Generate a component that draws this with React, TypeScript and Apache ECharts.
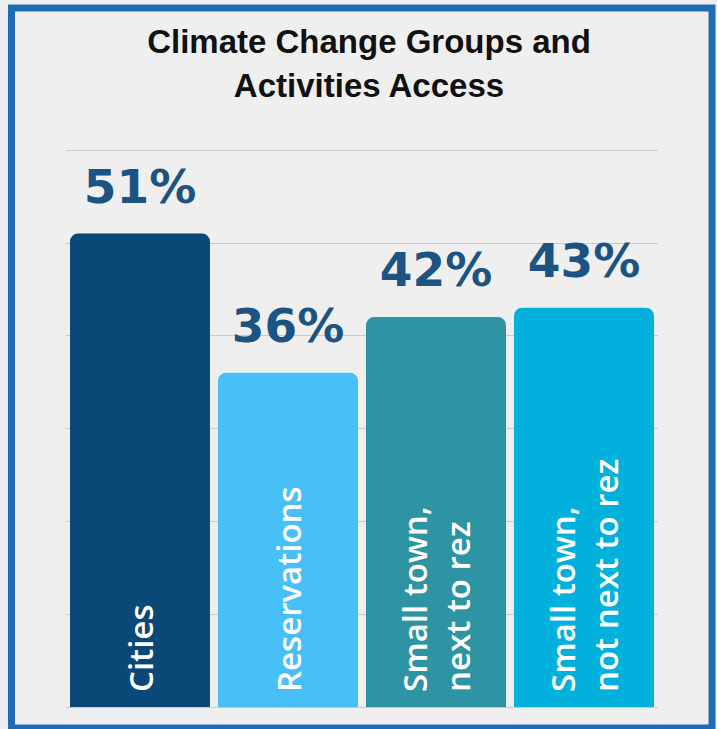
import React, { useEffect, useRef } from "react";
import * as echarts from "echarts";

const categories = ["Cities", "Reservations", "Small town,\nnext to rez", "Small town,\nnot next to rez"];
const values = [51, 36, 42, 43];
const barColors = ["#0a4878", "#48c0f7", "#2e93a2", "#02b0dc"];
const titleText = "Climate Change Groups and\nActivities Access";
const yTicks = { min: 0, max: 60, interval: 10 };

export default function App() {
  const ref = useRef<HTMLDivElement>(null);
  useEffect(() => {
    if (!ref.current) return;
    const chart = echarts.init(ref.current, null, { renderer: "svg" });
    chart.setOption({
      animation: false,
      backgroundColor: "#efefef",
      grid: { left: 66, right: 59, top: 150, bottom: 22, containLabel: false },
      xAxis: {
        type: "category",
        data: categories,
        axisLabel: { show: false },
        axisLine: { show: false },
        axisTick: { show: false },
      },
      yAxis: {
        type: "value",
        min: yTicks.min,
        max: yTicks.max,
        interval: yTicks.interval,
        axisLabel: { show: false },
        axisLine: { show: false },
        axisTick: { show: false },
        splitLine: { lineStyle: { color: "#c9c9c9", width: 1 } },
      },
      series: [
        {
          type: "bar",
          barWidth: 140,
          data: values.map((v, i) => ({ value: v, itemStyle: { color: barColors[i] } })),
          itemStyle: { borderRadius: [8, 8, 0, 0] },
          label: {
            show: true,
            position: "insideBottom",
            rotate: 90,
            align: "left",
            verticalAlign: "middle",
            distance: 15,
            color: "#ffffff",
            fontFamily: "Open Sans",
            fontWeight: 600,
            fontSize: 33,
            lineHeight: 43,
            formatter: (p: any) => categories[p.dataIndex],
          },
        },
        {
          type: "bar",
          barWidth: 140,
          barGap: "-100%",
          data: values,
          itemStyle: { color: "rgba(0,0,0,0)" },
          label: {
            show: true,
            position: "top",
            distance: 24,
            color: "#1b5382",
            fontFamily: "DejaVu Sans",
            fontWeight: "bold",
            fontSize: 47,
            formatter: "{c}%",
          },
          z: 3,
        },
      ],
      graphic: [
        {
          type: "text",
          x: 369,
          y: 19,
          style: {
            text: titleText,
            textAlign: "center",
            textVerticalAlign: "top",
            fill: "#111111",
            font: 'bold 33px "Liberation Sans"',
            lineHeight: 44,
          },
        },
        {
          type: "rect",
          shape: { x: 11.5, y: 8, width: 700.5, height: 720 },
          style: { fill: "none", stroke: "#1e6cb5", lineWidth: 7 },
          z: 10,
        },
      ],
    });
    return () => chart.dispose();
  }, []);
  return (
    <div
      ref={ref}
      style={{ position: "fixed", left: 0, top: 0, width: 717, height: 729 }}
    />
  );
}
